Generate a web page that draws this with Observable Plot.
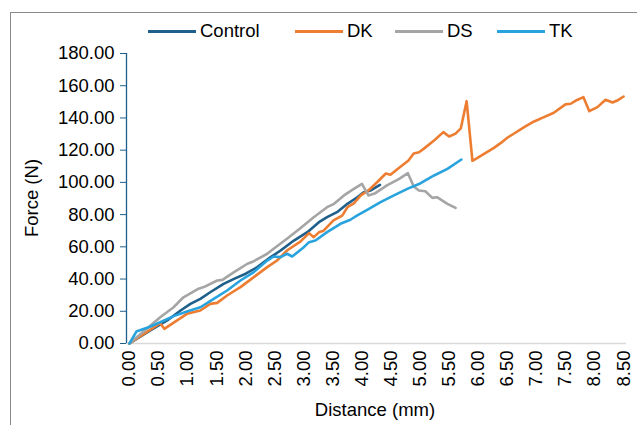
<!DOCTYPE html>
<html><head><meta charset="utf-8">
<script src="https://cdn.jsdelivr.net/npm/d3@7"></script>
<script src="https://cdn.jsdelivr.net/npm/@observablehq/plot@0.6"></script>
<style>
body{margin:0;background:#fff;font-family:"Liberation Sans",Arial,sans-serif;color:#000;}
#wrap{position:relative;width:637px;height:425px;overflow:hidden;background:#fff;}
#border{position:absolute;left:10px;top:12px;width:700px;height:500px;border:1.5px solid #8a8a8a;box-sizing:border-box;}
#chart{position:absolute;left:0;top:0;}
.leg{position:absolute;top:20px;display:flex;align-items:center;font-size:18.5px;white-space:nowrap;}
.leg .sw{width:48px;height:3px;margin-right:4px;}
#ytitle{position:absolute;left:32px;top:198px;transform:translate(-50%,-50%) rotate(-90deg);font-size:18.5px;white-space:nowrap;}
#xtitle{position:absolute;left:375px;top:410px;transform:translate(-50%,-50%);font-size:18.5px;white-space:nowrap;}
</style></head>
<body>
<div id="wrap"><div id="border"></div><div id="chart"></div><div id="ytitle">Force (N)</div><div id="xtitle">Distance (mm)</div></div>
<script>
const seriesNames = ["Control", "DK", "DS", "TK"];
const seriesColors = ["#1f5f8b", "#ed7d31", "#a5a5a5", "#29a3dd"];

const controlX = [0, 0.36, 0.65, 0.88, 1.05, 1.22, 1.39, 1.62, 1.80, 2.00, 2.20, 2.43, 2.60, 2.83, 3.06, 3.26, 3.40, 3.57, 3.75, 3.92, 4.03, 4.15, 4.31];
const controlY = [0, 8.1, 14.3, 20.5, 24.6, 27.7, 31.8, 37.0, 40.1, 43.3, 47.4, 53.6, 57.7, 63.9, 69.1, 75.3, 78.4, 81.5, 86.7, 90.8, 93.9, 95.0, 98.5];

const dkX = [0, 0.53, 0.60, 0.82, 0.99, 1.22, 1.39, 1.51, 1.68, 1.91, 2.14, 2.37, 2.54, 2.71, 2.94, 3.09, 3.17, 3.26, 3.34, 3.51, 3.66, 3.75, 3.86, 3.98, 4.11, 4.26, 4.41, 4.49, 4.63, 4.80, 4.89, 4.98, 5.06, 5.24, 5.40, 5.50, 5.61, 5.70, 5.80, 5.90, 5.98, 6.10, 6.27, 6.39, 6.50, 6.61, 6.79, 6.96, 7.13, 7.30, 7.50, 7.59, 7.68, 7.81, 7.91, 8.05, 8.19, 8.31, 8.39, 8.50];
const dkY = [0, 12.6, 9.1, 14.3, 18.4, 20.5, 24.6, 25.2, 29.8, 35.0, 41.2, 47.4, 51.5, 57.7, 63.2, 68.5, 66.0, 69.0, 70.0, 76.4, 79.4, 84.6, 86.9, 91.9, 95.0, 100.1, 105.5, 104.7, 108.8, 113.6, 117.9, 118.7, 120.8, 126.0, 131.2, 128.5, 130.3, 133.5, 150.4, 113.4, 115.0, 117.7, 121.4, 124.5, 127.7, 130.2, 134.3, 137.8, 140.5, 143.2, 148.4, 148.8, 150.8, 152.9, 144.2, 146.7, 151.3, 149.6, 150.8, 153.3];

const dsX = [0, 0.53, 0.76, 0.93, 1.19, 1.28, 1.51, 1.60, 1.80, 2.03, 2.14, 2.37, 2.48, 2.71, 2.94, 3.17, 3.40, 3.52, 3.69, 3.86, 4.00, 4.11, 4.23, 4.43, 4.64, 4.79, 4.89, 4.98, 5.09, 5.21, 5.29, 5.47, 5.61];
const dsY = [0, 16.3, 22.5, 28.7, 34.0, 35.0, 39.1, 39.5, 44.3, 49.5, 51.1, 55.7, 58.8, 65.0, 71.5, 78.4, 84.6, 86.7, 91.9, 96.0, 99.1, 91.9, 93.3, 98.1, 102.2, 105.7, 97.5, 95.0, 94.5, 90.4, 90.8, 86.7, 84.2];

const tkX = [0, 0.12, 0.33, 0.53, 0.76, 0.99, 1.22, 1.45, 1.68, 1.91, 2.14, 2.37, 2.48, 2.60, 2.71, 2.80, 3.00, 3.09, 3.20, 3.40, 3.63, 3.80, 3.92, 4.09, 4.32, 4.55, 4.78, 5.01, 5.24, 5.47, 5.71];
const tkY = [0, 7.4, 10.1, 13.2, 17.0, 19.9, 22.5, 27.7, 32.9, 39.1, 44.3, 51.5, 54.0, 53.6, 55.7, 54.0, 59.8, 62.9, 63.9, 69.1, 74.3, 76.8, 79.5, 83.0, 87.7, 91.9, 96.0, 99.5, 104.3, 108.4, 114.2];

const xTicks = d3.range(0, 8.51, 0.5);
const yTicks = d3.range(0, 181, 20);

const allX = [controlX, dkX, dsX, tkX];
const allY = [controlY, dkY, dsY, tkY];
const rows = [];
seriesNames.forEach((s, i) => allX[i].forEach((x, j) => rows.push({series: s, x, y: allY[i][j]})));

const xMin = -0.05;
const chart = Plot.plot({
  width: 637, height: 425,
  marginLeft: 126, marginRight: 11, marginTop: 53, marginBottom: 82,
  style: {fontFamily: '"Liberation Sans", Arial, sans-serif', fontSize: "18.5px", color: "#000", background: "transparent"},
  x: {domain: [xMin, 8.55]},
  y: {domain: [0, 180]},
  color: {domain: seriesNames, range: seriesColors},
  marks: [
    Plot.ruleY([0], {stroke: "#d9d9d9", strokeWidth: 1.5}),
    Plot.ruleX([xMin], {stroke: "#1f5f8b", strokeWidth: 1.3}),
    Plot.axisY({ticks: yTicks, tickFormat: d3.format(".2f"), tickSize: 6, tickPadding: 6, stroke: "#1f5f8b", fill: "#000", label: null}),
    Plot.axisX({ticks: xTicks, tickFormat: d3.format(".2f"), tickSize: 0, tickPadding: 7, tickRotate: -90, fill: "#000", label: null}),
    Plot.line(rows, {x: "x", y: "y", z: "series", stroke: "series", strokeWidth: 2.6, strokeLinejoin: "round"})
  ]
});
document.getElementById("chart").appendChild(chart);

const legendLeft = [148, 295, 395, 497];
const wrap = document.getElementById("wrap");
seriesNames.forEach((s, i) => {
  const d = document.createElement("div");
  d.className = "leg";
  d.style.left = legendLeft[i] + "px";
  d.innerHTML = `<span class="sw" style="background:${seriesColors[i]}"></span><span>${s}</span>`;
  wrap.appendChild(d);
});
</script>
</body></html>
